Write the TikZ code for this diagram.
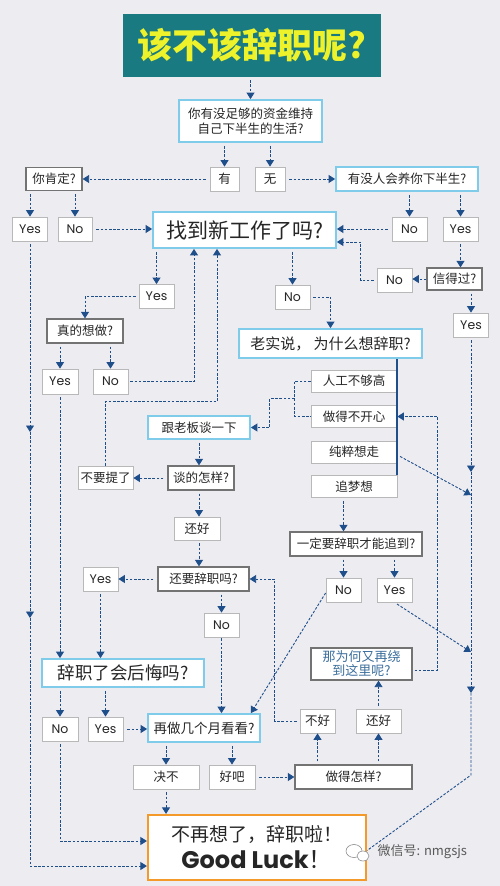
\documentclass[tikz,border=0pt]{standalone}
\usepackage{fontspec}
\setmainfont{Poppins}
\newfontfamily\cjk{Noto Sans CJK SC}
\usetikzlibrary{arrows.meta,calc}
\definecolor{bgc}{HTML}{EDECF1}
\definecolor{lnc}{HTML}{1F4F8A}
\definecolor{ttlc}{HTML}{1A7A82}
\definecolor{ttly}{HTML}{EEF22A}
\definecolor{skyb}{HTML}{7FCBEA}
\definecolor{orng}{HTML}{F39A2B}
\definecolor{whyc}{HTML}{3B6E9C}
\begin{document}
\begin{tikzpicture}[x=1pt,y=-1pt,
  sz/.style args={#1x#2}{minimum width=#1pt,minimum height=#2pt},
  base/.style={fill=white,inner sep=0pt,align=center,text=black!85,
    font=\cjk\fontsize{12.5}{15}\selectfont},
  sbox/.style={base,draw=black!28,line width=0.8pt},
  gbox/.style={base,draw=black!55,line width=1.3pt},
  bbox/.style={base,draw=skyb,line width=1.8pt},
  en/.style={font=\fontsize{12.5}{14}\selectfont},
  conn/.style={draw=lnc,line width=0.9pt,dash pattern=on 2.6pt off 1.6pt,
    -{Triangle[length=6.5pt,width=8pt]}},
  connl/.style={conn,-},
  thickln/.style={draw=lnc,line width=2pt}]
\useasboundingbox[fill=bgc] (0,0) rectangle (500,886);

% nodes
\node[fill=ttlc,sz=258x63,text=ttly,inner sep=0pt,
  font=\cjk\bfseries\fontsize{35}{38}\selectfont] (title) at (252,45.5) {该不该辞职呢?};
\node[bbox,sz=143x42] (q1) at (250.5,121) {你有没足够的资金维持\\自己下半生的生活?};
\node[sbox,sz=29x24] (you) at (224.5,179) {有};
\node[sbox,sz=30x24] (wu) at (270,179) {无};
\node[gbox,sz=56x23] (sure) at (54,179) {你肯定?};
\node[bbox,sz=142x24] (raise) at (407,179) {有没人会养你下半生?};
\node[sbox,en,sz=35x24] (yesA) at (30,229) {Yes};
\node[sbox,en,sz=34x24] (noA) at (75,229) {No};
\node[bbox,sz=183x36,font=\cjk\fontsize{21}{23}\selectfont] (find) at (244.5,230) {找到新工作了吗?};
\node[sbox,en,sz=35x24] (noB) at (409.5,229) {No};
\node[sbox,en,sz=35x24] (yesB) at (460.5,229) {Yes};
\node[gbox,sz=55x22] (trust) at (454.5,279) {信得过?};
\node[sbox,en,sz=35x24] (noC) at (394.5,280) {No};
\node[sbox,en,sz=35x24] (yesC) at (471,325) {Yes};
\node[sbox,en,sz=35x24] (yesD) at (156.5,296.5) {Yes};
\node[gbox,sz=76x24] (really) at (85,331) {真的想做?};
\node[sbox,en,sz=36x25] (yesE) at (60,381.5) {Yes};
\node[sbox,en,sz=35x25] (noE) at (110.5,381.5) {No};
\node[sbox,en,sz=35x24] (noD) at (292.5,297) {No};
\node[bbox,sz=183x29,font=\cjk\fontsize{15}{17}\selectfont] (honest) at (330.5,343.5) {老实说，\ 为什么想辞职?};
\node[sbox,sz=86x22] (opt1) at (354,381) {人工不够高};
\node[sbox,sz=86x22] (opt2) at (354,416.5) {做得不开心};
\node[sbox,sz=86x22] (opt3) at (354,452) {纯粹想走};
\node[sbox,sz=86x22] (opt4) at (354,486.5) {追梦想};
\node[bbox,sz=102x23] (boss) at (199,427.5) {跟老板谈一下};
\node[gbox,sz=66x24] (how) at (201,478) {谈的怎样?};
\node[sbox,sz=55x23] (dont) at (105.5,477.5) {不要提了};
\node[sbox,sz=46x23] (ok1) at (197,528.5) {还好};
\node[gbox,sz=91x24] (still) at (203.5,579) {还要辞职吗?};
\node[sbox,en,sz=35x24] (yesF) at (100.5,579) {Yes};
\node[sbox,en,sz=35x24] (noF) at (221.5,625) {No};
\node[bbox,sz=162x28,font=\cjk\fontsize{17.5}{19}\selectfont] (regret) at (123,673) {辞职了会后悔吗?};
\node[sbox,en,sz=36x24] (noG) at (60,729) {No};
\node[sbox,en,sz=35x24] (yesG) at (105.5,729) {Yes};
\node[bbox,sz=112x28,font=\cjk\fontsize{13.5}{15}\selectfont] (months) at (204,728) {再做几个月看看?};
\node[sbox,sz=66x24] (never) at (166,777) {决不};
\node[sbox,sz=46x24] (fine) at (232,777) {好吧};
\node[gbox,sz=117x24] (doing) at (353.5,777) {做得怎样?};
\node[sbox,sz=35x24] (bad) at (317.5,721) {不好};
\node[sbox,sz=45x24] (ok2) at (378.5,721) {还好};
\node[gbox,sz=101x32,text=whyc,font=\cjk\fontsize{13}{14}\selectfont] (why) at (361.5,664) {那为何又再绕\\到这里呢?};
\node[gbox,sz=132x24] (dream) at (356,544) {一定要辞职才能追到?};
\node[sbox,en,sz=35x24] (noH) at (343.5,590) {No};
\node[sbox,en,sz=35x24] (yesH) at (394.5,590) {Yes};
\node[draw=orng,line width=2.2pt,fill=white,sz=218x65,inner sep=0pt,align=center,text=black!85,
  font=\fontsize{22}{27}\selectfont] (luck) at (257,847.5)
  {{\cjk\fontsize{19}{22}\selectfont 不再想了，辞职啦！}\\
   {\bfseries\fontsize{24}{27}\selectfont Good Luck{\cjk\mdseries ！}}};

% watermark
\draw[black!45,fill=white,line width=0.6pt] (354,851) ellipse (8 and 6.5);
\draw[black!45,fill=white,line width=0.6pt] (363,856) ellipse (6 and 5);
\node[anchor=west,text=black!65,font=\cjk\fontsize{13}{14}\selectfont] (wm) at (374,852) {微信号: nmgsjs};

% helper coordinates on the long columns
\coordinate (r1) at (471,472);
\coordinate (r2) at (471,693);
\coordinate (r3) at (471,775);
\coordinate (r4) at (471,495);
\coordinate (r5) at (471,652);
\coordinate (l1) at (30,432);
\coordinate (l2) at (30,618);

% connectors
\draw[conn,shorten <=3pt] (q1.north |- title.south) -- (q1.north);
\draw[conn,shorten <=3pt] (q1.south -| you) -- (you.north);
\draw[conn,shorten <=3pt] (q1.south -| wu) -- (wu.north);
\draw[conn,shorten <=4pt] (you.west) -- (sure.east |- you.west);
\draw[conn,shorten <=4pt] (wu.east) -- (raise.west);
\draw[conn,shorten <=3pt] (sure.south -| yesA) -- (yesA.north);
\draw[conn,shorten <=3pt] (sure.south -| noA) -- (noA.north);
\draw[conn,shorten <=4pt] (noA.east) -- (find.west |- noA.east);
\draw[conn,shorten <=3pt] (raise.south -| noB) -- (noB.north);
\draw[conn,shorten <=3pt] (raise.south -| yesB) -- (yesB.north);
\draw[conn,shorten <=4pt] (noB.west) -- (find.east |- noB.west);
\draw[conn,shorten <=3pt] (yesB.south) -- (trust.north -| yesB);
\draw[conn] (trust.west) -- (noC.east |- trust.west);
\draw[conn,shorten <=3pt] (noC.west) -- ++(-16,0) |- ([yshift=-12pt]find.east);
\draw[conn,shorten <=3pt] (trust.south -| yesC) -- (yesC.north);

\draw[conn,shorten <=3pt] (yesC.south) -- (r1);
\draw[conn] (r1) -- (r2);
\draw[connl] (r2) -- (r3) -- ([yshift=-3pt]luck.east);
\draw[conn,shorten <=3pt] ([yshift=-3pt]opt3.east) -- (r4);
\draw[conn,shorten <=3pt] (yesH.south) -- (r5);

\draw[conn,shorten <=3pt] (find.south -| yesD) -- (yesD.north);
\draw[conn,shorten <=3pt] (yesD.west) -| (really.north);
\draw[conn,shorten <=3pt] (really.south -| yesE) -- (yesE.north);
\draw[conn,shorten <=3pt] (really.south -| noE) -- (noE.north);
\draw[conn,shorten <=2pt] (noE.east) -| ([xshift=-50.5pt]find.south);
\draw[conn] (dont.north) -- ++(0,-64) -| ([xshift=-27.5pt]find.south);

\draw[conn,shorten <=3pt] (find.south -| noD) -- (noD.north);
\draw[conn,shorten <=3pt] (noD.east) -| (honest.north);
\draw[thickln] (honest.south -| opt1.east) -- (opt4.north east);
\draw[connl] (opt1.west) -- ++(-16,0) coordinate (br) |- (opt2.west);
\draw[conn] ($(br)!0.5!(br |- opt2.west)$) -- ++(-25,0) |- (boss.east);
\draw[conn,shorten <=3pt] (boss.south) -- (boss.south |- how.north);
\draw[conn,shorten <=4pt] (how.west) -- (dont.east |- how.west);
\draw[conn,shorten <=3pt] (boss.south |- how.south) -- (boss.south |- ok1.north);
\draw[conn,shorten <=3pt] (boss.south |- ok1.south) -- (boss.south |- still.north);
\draw[conn,shorten <=4pt] (still.west) -- (yesF.east);
\draw[conn,shorten <=3pt] (still.south -| noF) -- (noF.north);
\draw[conn,shorten <=1pt] (noF.south) -- (months.north -| noF);
\draw[conn,shorten <=3pt] (bad.west) -- ++(-25,0) |- (still.east);
\draw[conn,shorten <=3pt] (yesF.south) -- (regret.north -| yesF);
\draw[conn,shorten <=3pt] (yesE.south) -- (regret.north -| yesE);

\draw[conn,shorten <=3pt] (yesA.south) -- (l1);
\draw[conn] (l1) -- (l2);
\draw[conn] (l2) |- ([yshift=-18.5pt]luck.west);
\draw[conn,shorten <=3pt] (regret.south -| noG) -- (noG.north);
\draw[conn,shorten <=3pt] (regret.south -| yesG) -- (yesG.north);
\draw[conn,shorten <=4pt] (yesG.east) -- (months.west |- yesG.east);
\draw[conn,shorten <=3pt] (noG.south) |- ([yshift=6.5pt]luck.west);
\draw[conn,shorten <=3pt] (months.south -| never) -- (never.north);
\draw[conn,shorten <=3pt] (months.south -| fine) -- (fine.north);
\draw[conn,shorten <=3pt] (never.south) -- (luck.north -| never);
\draw[conn,shorten <=4pt] (fine.east) -- (doing.west |- fine.east);
\draw[conn,shorten <=3pt] (doing.north -| bad) -- (bad.south);
\draw[conn,shorten <=3pt] (doing.north -| ok2) -- (ok2.south);
\draw[conn,shorten <=3pt] (ok2.north) -- (why.south -| ok2);
\draw[conn,shorten <=2pt] ([yshift=-6pt]why.east) -- ++(25,0) |- (opt2.east);
\draw[conn,shorten <=3pt] (opt4.south -| noH) -- (dream.north -| noH);
\draw[conn,shorten <=3pt] (dream.south -| noH) -- (noH.north);
\draw[conn,shorten <=3pt] (dream.south -| yesH) -- (yesH.north);
\draw[conn] ([yshift=-3pt]noH.west) -- ([xshift=-10pt]months.north east);
\end{tikzpicture}
\end{document}
